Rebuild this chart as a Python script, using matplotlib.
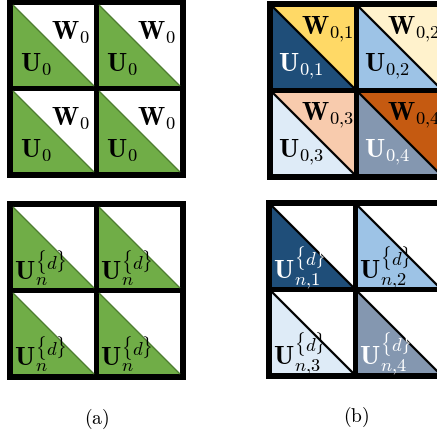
import matplotlib
matplotlib.use('Agg')
import matplotlib.pyplot as plt
from matplotlib.patches import Rectangle, Polygon

plt.rcParams['mathtext.fontset'] = 'cm'
plt.rcParams['font.family'] = 'DejaVu Serif'

# ── data ────────────────────────────────────────────────────────────────
a_u_colors = ['#70AD47', '#70AD47', '#70AD47', '#70AD47']
a_w_colors = ['white', 'white', 'white', 'white']
a_top_u = [r'$\mathbf{U}_{0}$'] * 4
a_top_w = [r'$\mathbf{W}_{0}$'] * 4
a_bot_u = [r'$\mathbf{U}_{n}^{\{d\}}$'] * 4

b_u_colors = ['#1F4E79', '#9DC3E6', '#DEEBF7', '#8497B0']
b_w_colors = ['#FFD966', '#FFF2CC', '#F8CBAD', '#C55A11']
b_top_u = [r'$\mathbf{U}_{0{,}1}$', r'$\mathbf{U}_{0{,}2}$', r'$\mathbf{U}_{0{,}3}$', r'$\mathbf{U}_{0{,}4}$']
b_top_w = [r'$\mathbf{W}_{0{,}1}$', r'$\mathbf{W}_{0{,}2}$', r'$\mathbf{W}_{0{,}3}$', r'$\mathbf{W}_{0{,}4}$']
b_bot_u = [r'$\mathbf{U}_{n{,}1}^{\{d\}}$', r'$\mathbf{U}_{n{,}2}^{\{d\}}$',
           r'$\mathbf{U}_{n{,}3}^{\{d\}}$', r'$\mathbf{U}_{n{,}4}^{\{d\}}$']
b_text_colors = ['white', 'black', 'black', 'white']

# layout (pixels)
BORDER, CELL, GAP = 6, 81, 5
FS = 19

fig = plt.figure(figsize=(4.37, 4.34), dpi=100)
ax = fig.add_axes([0, 0, 1, 1])
ax.set_xlim(0, 437)
ax.set_ylim(434, 0)
ax.axis('off')


def draw_panel(px, py, u_cols, w_cols, u_labels, w_labels, txt_cols,
               diag_col, diag_lw, u_off, w_off):
    size = 2 * BORDER + 2 * CELL + GAP
    ax.add_patch(Rectangle((px, py), size, size, facecolor='black', edgecolor='none'))
    for i in range(4):
        r, c = divmod(i, 2)
        x0 = px + BORDER + c * (CELL + GAP)
        y0 = py + BORDER + r * (CELL + GAP)
        ax.add_patch(Rectangle((x0, y0), CELL, CELL, facecolor=w_cols[i], edgecolor='none'))
        ax.add_patch(Polygon([(x0, y0), (x0, y0 + CELL), (x0 + CELL, y0 + CELL)],
                             closed=True, facecolor=u_cols[i], edgecolor='none'))
        ax.plot([x0, x0 + CELL], [y0, y0 + CELL], color=diag_col, lw=diag_lw,
                solid_capstyle='butt')
        ax.text(x0 + u_off[0], y0 + u_off[1], u_labels[i], fontsize=FS,
                color=txt_cols[i], ha='left', va='baseline')
        if w_labels is not None:
            ax.text(x0 + w_off[0], y0 + w_off[1], w_labels[i], fontsize=FS,
                    color='black', ha='left', va='baseline')


# (a) top / bottom
draw_panel(7, -1, a_u_colors, a_w_colors, a_top_u, a_top_w, ['black'] * 4,
           '#4E7D31', 1.0, (7, 66), (38, 34))
draw_panel(7, 201, a_u_colors, a_w_colors, a_bot_u, None, ['black'] * 4,
           '#4E7D31', 1.0, (1, 73), None)
# (b) top / bottom
draw_panel(267, 1, b_u_colors, b_w_colors, b_top_u, b_top_w, b_text_colors,
           'black', 1.6, (5, 64), (28, 27))
draw_panel(266, 200, b_u_colors, ['white'] * 4, b_bot_u, None, b_text_colors,
           'black', 1.6, (1, 73), None)

ax.text(97, 419, r'$\mathrm{(a)}$', fontsize=14, ha='center', va='center')
ax.text(356, 417, r'$\mathrm{(b)}$', fontsize=14, ha='center', va='center')

fig.savefig('out.png', dpi=100)
